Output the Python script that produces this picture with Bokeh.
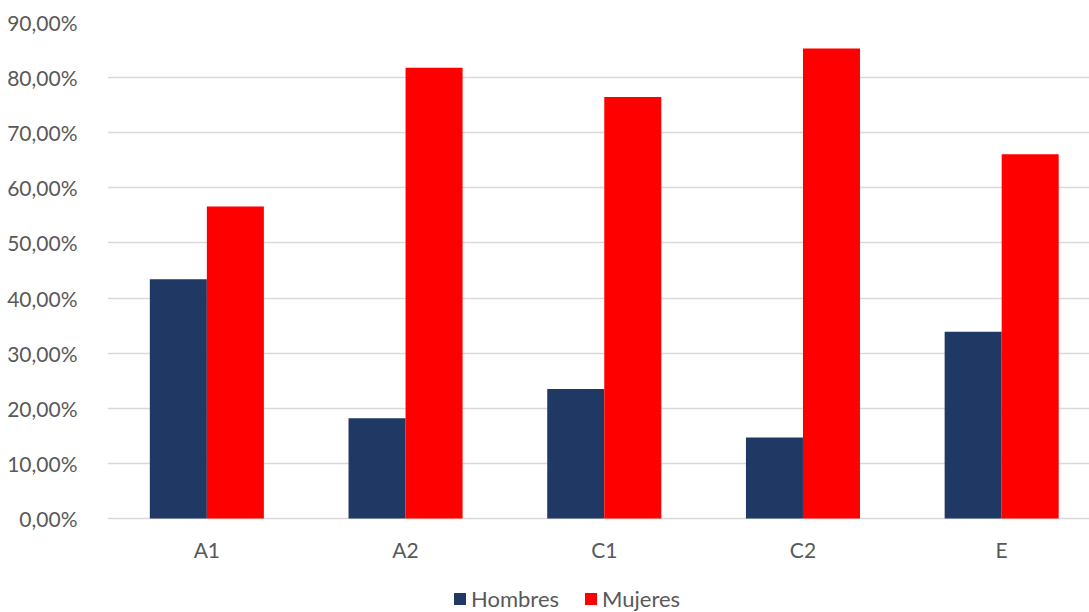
from bokeh.plotting import figure
from bokeh.models import ColumnDataSource, Range1d, FixedTicker, Legend, LegendItem, CustomJSTickFormatter
from bokeh.core.properties import value
from bokeh.transform import dodge
from bokeh.embed import file_html
from bokeh.resources import INLINE

categories = ["A1", "A2", "C1", "C2", "E"]
hombres = [0.434, 0.182, 0.235, 0.147, 0.339]
mujeres = [0.566, 0.818, 0.765, 0.853, 0.661]
y_ticks = [0.0, 0.1, 0.2, 0.3, 0.4, 0.5, 0.6, 0.7, 0.8, 0.9]

FONT = "Lato"
TXT = "#595959"

src = ColumnDataSource(dict(x=list(range(len(categories))), cat=categories, h=hombres, m=mujeres,
                            base=[0.0] * len(categories)))

# frame spans from the 90% line down to the bottom of the picture (0% sits 94px above it)
Y_TOP = 0.9
y_bottom = -Y_TOP * 94 / 496
p = figure(width=1089, height=612, output_backend="svg", toolbar_location=None,
           x_range=Range1d(-0.5, 4.442), y_range=Range1d(y_bottom, Y_TOP),
           min_border_left=107, min_border_right=0, min_border_top=22, min_border_bottom=0)
p.outline_line_color = None

rh = p.vbar(x=dodge("x", -0.1435), top="h", width=0.287, source=src, color="#203864", line_color=None)
rm = p.vbar(x=dodge("x", 0.1435), top="m", width=0.287, source=src, color="#FF0000", line_color=None)

# category labels under the bars
p.text(x="x", y="base", text="cat", source=src, y_offset=31, text_align="center", text_baseline="middle",
       text_font=value(FONT), text_font_size="21px", text_color=TXT)

p.xaxis.visible = False
p.yaxis.ticker = FixedTicker(ticks=y_ticks)
p.yaxis.formatter = CustomJSTickFormatter(code="return (tick*100).toFixed(2).replace('.', ',') + '%';")
p.yaxis.axis_line_color = None
p.yaxis.major_tick_line_color = None
p.yaxis.minor_tick_line_color = None
p.yaxis.major_label_text_font = FONT
p.yaxis.major_label_text_font_size = "21px"
p.yaxis.major_label_text_color = TXT
p.yaxis.major_label_standoff = 24

p.xgrid.grid_line_color = None
p.ygrid.grid_line_color = "#d9d9d9"
p.ygrid.grid_line_width = 1.5
p.ygrid.ticker = FixedTicker(ticks=y_ticks)

legend = Legend(items=[LegendItem(label="Hombres", renderers=[rh]), LegendItem(label="Mujeres", renderers=[rm])],
                orientation="horizontal", location=(345, 0), border_line_color=None,
                background_fill_alpha=0, padding=0, margin=0, spacing=24,
                glyph_width=15, glyph_height=15, label_standoff=4,
                label_text_font=FONT, label_text_font_size="22px", label_text_color=TXT)
p.add_layout(legend, "center")

open("out.html", "w").write(file_html(p, INLINE))
